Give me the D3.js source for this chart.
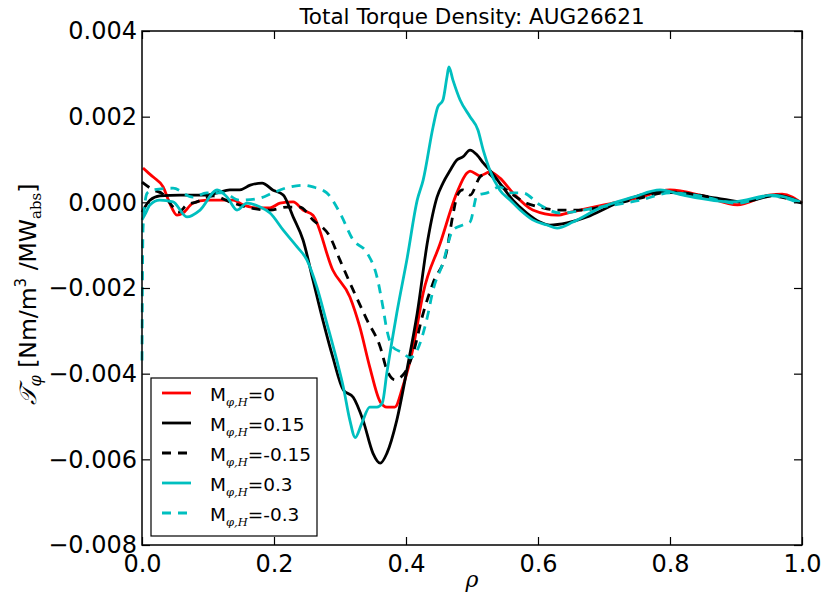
<!DOCTYPE html>
<html>
<head>
<meta charset="utf-8">
<script src="https://cdn.jsdelivr.net/npm/d3@7"></script>
<style>
  body { margin: 0; background: #fff; }
  svg { display: block; font-family: "DejaVu Sans", sans-serif; }
</style>
</head>
<body>
<div id="chart"></div>
<script>
// ---- data (rho, torque density) ----
const rhoTicks = [0, 0.2, 0.4, 0.6, 0.8, 1.0];
const torqueTicks = [-0.008, -0.006, -0.004, -0.002, 0, 0.002, 0.004];

const m0 = [
  [0.0015, 0.80], [0.008, 0.71], [0.017, 0.59], [0.032, 0.36], [0.042, -0.02], [0.053, -0.30],
  [0.062, -0.25], [0.077, -0.02], [0.098, 0.05], [0.118, 0.05], [0.138, 0.05], [0.153, -0.06],
  [0.174, -0.13], [0.194, -0.13], [0.209, -0.02], [0.229, 0.01], [0.244, -0.18], [0.259, -0.30],
  [0.289, -1.58], [0.315, -2.21], [0.330, -2.91], [0.345, -3.84], [0.361, -4.66], [0.371, -4.78],
  [0.383, -4.78], [0.395, -4.31], [0.411, -3.38], [0.426, -2.12], [0.452, -0.95], [0.477, 0.22],
  [0.492, 0.68], [0.497, 0.73], [0.512, 0.62], [0.527, 0.71], [0.542, 0.57], [0.562, 0.22],
  [0.592, -0.18], [0.629, -0.30], [0.650, -0.23], [0.700, -0.06], [0.750, 0.10], [0.800, 0.29],
  [0.850, 0.15], [0.902, -0.06], [0.950, 0.17], [0.970, 0.19], [1.0, -0.02]
];

const mP015 = [
  [0.0, -0.23], [0.012, 0.05], [0.027, 0.15], [0.058, 0.17], [0.098, 0.17], [0.114, 0.22],
  [0.133, 0.29], [0.148, 0.29], [0.164, 0.40], [0.182, 0.45], [0.198, 0.29], [0.214, 0.17],
  [0.229, -0.34], [0.244, -0.88], [0.259, -1.81], [0.274, -2.75], [0.289, -3.61], [0.305, -4.38],
  [0.320, -4.55], [0.335, -5.09], [0.350, -5.86], [0.361, -6.09], [0.371, -5.86], [0.386, -5.09],
  [0.402, -3.86], [0.417, -2.59], [0.433, -0.88], [0.447, 0.12], [0.456, 0.45], [0.467, 0.75],
  [0.477, 0.99], [0.486, 1.06], [0.497, 1.22], [0.508, 1.10], [0.517, 0.92], [0.527, 0.75],
  [0.542, 0.45], [0.562, 0.05], [0.583, -0.25], [0.603, -0.46], [0.618, -0.53], [0.644, -0.48],
  [0.674, -0.34], [0.720, -0.02], [0.785, 0.24], [0.811, 0.22], [0.871, 0.10], [0.911, 0.01],
  [0.962, 0.17], [0.997, 0.01]
];

const mN015 = [
  [0.0, 0.47], [0.017, 0.29], [0.032, 0.19], [0.047, -0.11], [0.055, -0.23], [0.068, -0.06],
  [0.083, 0.01], [0.108, 0.15], [0.133, 0.01], [0.164, -0.13], [0.194, -0.18], [0.220, -0.11],
  [0.239, -0.11], [0.259, -0.41], [0.285, -0.81], [0.300, -1.35], [0.320, -2.05], [0.341, -2.75],
  [0.361, -3.38], [0.371, -3.91], [0.383, -4.14], [0.398, -3.98], [0.411, -3.51], [0.426, -2.59],
  [0.441, -1.88], [0.462, -1.11], [0.471, -0.30], [0.478, 0.17], [0.486, 0.29], [0.497, 0.17],
  [0.512, 0.59], [0.523, 0.68], [0.538, 0.47], [0.558, 0.22], [0.583, -0.02], [0.603, -0.11],
  [0.629, -0.18], [0.664, -0.18], [0.709, -0.06], [0.755, 0.10], [0.800, 0.24], [0.845, 0.17],
  [0.902, 0.01], [0.952, 0.15], [1.0, -0.02]
];

const mP03 = [
  [0.0, -0.41], [0.005, -0.27], [0.012, -0.06], [0.027, 0.05], [0.047, 0.01], [0.068, -0.34],
  [0.088, -0.18], [0.114, 0.29], [0.129, 0.12], [0.144, -0.18], [0.159, -0.02], [0.179, -0.11],
  [0.194, -0.25], [0.214, -0.65], [0.235, -1.04], [0.250, -1.35], [0.265, -1.98], [0.280, -2.82],
  [0.295, -3.68], [0.305, -4.31], [0.315, -5.09], [0.323, -5.49], [0.333, -5.16], [0.345, -4.78],
  [0.356, -4.78], [0.364, -4.69], [0.371, -3.98], [0.386, -2.59], [0.402, -1.28], [0.417, 0.05],
  [0.426, 0.52], [0.441, 1.76], [0.448, 2.22], [0.456, 2.39], [0.462, 2.92], [0.465, 3.16],
  [0.471, 2.86], [0.482, 2.39], [0.497, 2.00], [0.509, 1.69], [0.517, 1.22], [0.527, 0.75],
  [0.542, 0.29], [0.558, 0.05], [0.573, -0.18], [0.592, -0.41], [0.614, -0.53], [0.629, -0.60],
  [0.653, -0.46], [0.694, -0.13], [0.744, 0.12], [0.785, 0.29], [0.820, 0.17], [0.895, 0.01],
  [0.956, 0.17], [0.997, 0.01]
];

const mN03 = [
  [0.0, -3.69], [0.0015, -0.65], [0.005, 0.05], [0.008, 0.22], [0.017, 0.29], [0.047, 0.33],
  [0.077, 0.12], [0.098, 0.22], [0.123, 0.22], [0.148, 0.05], [0.179, 0.10], [0.198, 0.22],
  [0.224, 0.36], [0.244, 0.40], [0.259, 0.36], [0.280, 0.22], [0.300, -0.25], [0.320, -0.88],
  [0.341, -1.18], [0.356, -1.74], [0.365, -2.44], [0.371, -2.98], [0.380, -3.38], [0.395, -3.51],
  [0.406, -3.63], [0.417, -3.45], [0.432, -2.70], [0.441, -2.05], [0.456, -1.42], [0.471, -0.65],
  [0.486, -0.53], [0.497, -0.46], [0.508, 0.17], [0.523, 0.22], [0.542, 0.36], [0.558, 0.22],
  [0.577, 0.22], [0.603, -0.06], [0.633, -0.25], [0.694, -0.11], [0.755, 0.05], [0.800, 0.22],
  [0.845, 0.15], [0.902, -0.02], [0.952, 0.15], [1.0, -0.04]
];

// values above are in units of 1e-3
const series = [
  { name: '0', data: m0, color: '#ff0000', dash: null },
  { name: '0.15', data: mP015, color: '#000000', dash: null },
  { name: '-0.15', data: mN015, color: '#000000', dash: '9,7' },
  { name: '0.3', data: mP03, color: '#00bfbf', dash: null },
  { name: '-0.3', data: mN03, color: '#00bfbf', dash: '9,7' }
];

// ---- layout ----
const width = 823, height = 595;
const margin = { left: 142, right: 21, top: 31, bottom: 50 };
const innerW = width - margin.left - margin.right;
const innerH = height - margin.top - margin.bottom;

const svg = d3.select('#chart').append('svg')
  .attr('width', width)
  .attr('height', height);

const x = d3.scaleLinear().domain([0, 1]).range([0, innerW]);
const y = d3.scaleLinear().domain([-0.008, 0.004]).range([innerH, 0]);

const g = svg.append('g')
  .attr('transform', `translate(${margin.left},${margin.top})`);

// clip for curves
g.append('clipPath').attr('id', 'clip')
  .append('rect').attr('x', -2).attr('y', 0).attr('width', innerW + 4).attr('height', innerH);

const line = d3.line()
  .x(d => x(d[0]))
  .y(d => y(d[1] * 1e-3))
  .curve(d3.curveMonotoneX);

const curves = g.append('g').attr('clip-path', 'url(#clip)');
series.forEach(s => {
  curves.append('path')
    .attr('d', line(s.data))
    .attr('fill', 'none')
    .attr('stroke', s.color)
    .attr('stroke-width', 2.8)
    .attr('stroke-linejoin', 'round')
    .attr('stroke-dasharray', s.dash);
});

// ---- axes (ticks pointing inward, on all sides) ----
const fmtX = d3.format('.1f');
const fmtY = d3.format('.3f');

const xAxis = g.append('g')
  .attr('transform', `translate(0,${innerH})`)
  .call(d3.axisBottom(x).tickValues(rhoTicks).tickFormat(fmtX).tickSize(-8).tickPadding(10));
const xTop = g.append('g')
  .call(d3.axisTop(x).tickValues(rhoTicks).tickFormat('').tickSize(-8));
const yAxis = g.append('g')
  .call(d3.axisLeft(y).tickValues(torqueTicks).tickFormat(fmtY).tickSize(-8).tickPadding(5));
const yRight = g.append('g')
  .attr('transform', `translate(${innerW},0)`)
  .call(d3.axisRight(y).tickValues(torqueTicks).tickFormat('').tickSize(-8));

[xAxis, xTop, yAxis, yRight].forEach(a => {
  a.select('.domain').remove();
  a.selectAll('.tick line').attr('stroke', '#000').attr('stroke-width', 1.2);
  a.selectAll('.tick text')
    .attr('font-family', '"DejaVu Sans", sans-serif')
    .attr('font-size', 24)
    .attr('fill', '#000');
});

g.append('rect')
  .attr('width', innerW)
  .attr('height', innerH)
  .attr('fill', 'none')
  .attr('stroke', '#000')
  .attr('stroke-width', 1.5);

// ---- title and axis labels ----
svg.append('text')
  .attr('x', margin.left + innerW / 2)
  .attr('y', 24)
  .attr('text-anchor', 'middle')
  .attr('font-size', 21.5)
  .text('Total Torque Density: AUG26621');

svg.append('text')
  .attr('x', margin.left + innerW / 2)
  .attr('y', 587)
  .attr('text-anchor', 'middle')
  .attr('font-family', '"DejaVu Serif", serif')
  .attr('font-style', 'italic')
  .attr('font-size', 22)
  .text('ρ');

const yLabel = svg.append('text')
  .attr('transform', 'translate(36,294) rotate(-90)')
  .attr('text-anchor', 'middle')
  .attr('font-size', 23.5);
yLabel.append('tspan')
  .attr('font-family', '"DejaVu Serif", serif')
  .attr('font-style', 'italic')
  .text('𝒯');
yLabel.append('tspan')
  .attr('font-family', '"DejaVu Serif", serif')
  .attr('font-style', 'italic')
  .attr('font-size', 16)
  .attr('dy', 5)
  .text('φ');
yLabel.append('tspan').attr('dy', -5).text('  [Nm/m');
yLabel.append('tspan').attr('font-size', 15).attr('dy', -10).text('3');
yLabel.append('tspan').attr('dy', 10).text(' /MW');
yLabel.append('tspan')
  .attr('font-family', '"DejaVu Serif", serif')
  .attr('font-size', 15)
  .attr('dy', 5)
  .text('abs');
yLabel.append('tspan').attr('dy', -5).text(']');

// ---- legend ----
const legend = svg.append('g').attr('transform', 'translate(151,378)');
legend.append('rect')
  .attr('width', 166)
  .attr('height', 158)
  .attr('fill', '#fff')
  .attr('stroke', '#000')
  .attr('stroke-width', 1.2);

series.forEach((s, i) => {
  const row = legend.append('g').attr('transform', `translate(0,${15 + i * 30})`);
  row.append('line')
    .attr('x1', 11).attr('x2', 40)
    .attr('stroke', s.color)
    .attr('stroke-width', 2.8)
    .attr('stroke-dasharray', s.dash);
  const t = row.append('text')
    .attr('x', 59)
    .attr('y', 8)
    .attr('font-size', 18.5);
  t.append('tspan').text('M');
  t.append('tspan')
    .attr('font-family', '"DejaVu Serif", serif')
    .attr('font-style', 'italic')
    .attr('font-size', 11.5)
    .attr('dy', 5)
    .text('φ,H');
  t.append('tspan').attr('dy', -5).text('=' + s.name);
});
</script>
</body>
</html>
